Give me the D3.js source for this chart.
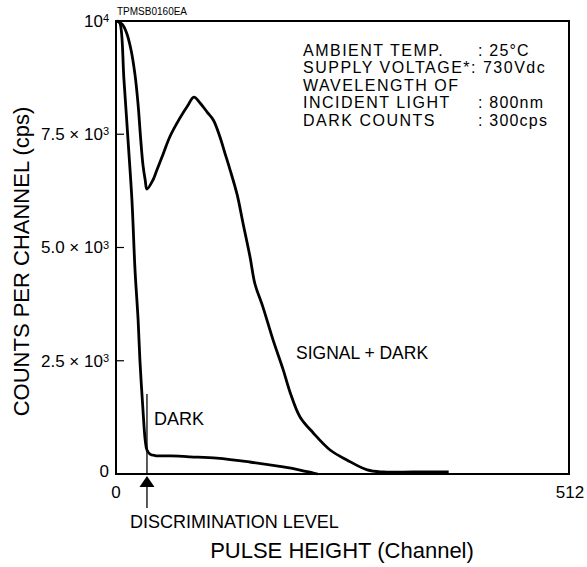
<!DOCTYPE html>
<html>
<head>
<meta charset="utf-8">
<script src="https://cdn.jsdelivr.net/npm/d3@7"></script>
<style>
  body { margin: 0; background: #fff; }
  text { font-family: "Liberation Sans", Arial, sans-serif; fill: #000; }
</style>
</head>
<body>
<div id="chart"></div>
<script>
// pulse height distribution
const darkChannel = [2, 4.5, 9, 13.6, 18, 21.5, 25, 27, 30.5, 33, 35, 38.4, 44, 61, 76, 84, 114, 151, 189, 208, 223, 228];
const darkCounts  = [10000, 9950, 8700, 7370, 6050, 4500, 3400, 2520, 1410, 750, 530, 440, 408, 400, 390, 380, 350, 265, 155, 88, 22, 0];

const signalChannel = [1, 7, 12, 17, 21.5, 25, 28, 30.5, 33, 35, 41.8, 46, 53, 61, 72, 81, 88, 95, 103, 110, 117.5, 123, 129, 137, 143.5, 151.5, 157, 166, 177.5, 189, 197, 208, 223, 242, 261, 284, 302, 336, 376];
const signalCounts  = [10000, 9930, 9735, 9360, 8810, 8150, 7370, 6820, 6490, 6290, 6490, 6700, 7050, 7450, 7850, 8130, 8320, 8190, 7990, 7815, 7440, 7090, 6710, 6160, 5540, 4790, 4200, 3690, 2960, 2300, 1790, 1260, 905, 530, 310, 90, 45, 45, 45];

const yTicks = [0, 2500, 5000, 7500, 10000];
const yMantissa = ["0", "2.5", "5.0", "7.5", "10"];   // "10" gets exponent 4
const xTicks = [0, 512];

const discrimChannel = 35;
const discrimTop = 1766;

const conditions = [
  ["AMBIENT TEMP.", ": 25°C"],
  ["SUPPLY VOLTAGE*: 730Vdc", ""],
  ["WAVELENGTH OF", ""],
  ["INCIDENT LIGHT", ": 800nm"],
  ["DARK COUNTS", ": 300cps"]
];

const W = 587, H = 567;
const margin = { top: 21, right: 18, bottom: 93, left: 116 };

const svg = d3.select("#chart").append("svg")
  .attr("width", W).attr("height", H);

const x = d3.scaleLinear().domain([0, 512]).range([margin.left, W - margin.right]);
const y = d3.scaleLinear().domain([0, 10000]).range([H - margin.bottom, margin.top]);

// frame
svg.append("rect")
  .attr("x", x(0)).attr("y", y(10000))
  .attr("width", x(512) - x(0)).attr("height", y(0) - y(10000))
  .attr("fill", "none").attr("stroke", "#000").attr("stroke-width", 2);

// inward y ticks
svg.append("g").selectAll("line")
  .data(yTicks.filter(d => d > 0 && d < 10000))
  .join("line")
  .attr("x1", x(0)).attr("x2", x(0) + 8)
  .attr("y1", d => y(d)).attr("y2", d => y(d))
  .attr("stroke", "#000").attr("stroke-width", 1.2);

// y tick labels
const yl = svg.append("g").selectAll("text")
  .data(yTicks)
  .join("text")
  .attr("x", x(0) - 7)
  .attr("y", d => y(d))
  .attr("dy", "0.35em")
  .attr("text-anchor", "end")
  .style("font-size", "17px");

yl.each(function (d, i) {
  const t = d3.select(this);
  if (d === 0) { t.attr("dy", "0.2em").text("0"); return; }
  if (d === 10000) {
    t.append("tspan").text("10");
    t.append("tspan").attr("dy", "-0.45em").style("font-size", "11px").text("4");
    return;
  }
  t.append("tspan").text(yMantissa[i] + " \u00d7 10");
  t.append("tspan").attr("dy", "-0.45em").style("font-size", "11px").text("3");
});

// x tick labels
svg.append("g").selectAll("text")
  .data(xTicks)
  .join("text")
  .attr("x", d => x(d) + (d === 512 ? 1 : 0))
  .attr("y", y(0) + 24)
  .attr("text-anchor", "middle")
  .style("font-size", "17px")
  .text(d => d);

// axis titles
svg.append("text")
  .attr("transform", `translate(29, ${(y(0) + y(10000)) / 2 + 14}) rotate(-90)`)
  .attr("text-anchor", "middle")
  .style("font-size", "22px")
  .text("COUNTS PER CHANNEL (cps)");

svg.append("text")
  .attr("x", 342).attr("y", 558)
  .attr("text-anchor", "middle")
  .style("font-size", "22px")
  .text("PULSE HEIGHT (Channel)");

svg.append("text")
  .attr("x", x(0) + 1).attr("y", 15)
  .style("font-size", "10px")
  .text("TPMSB0160EA");

// curves
const line = d3.line()
  .x(d => x(d[0]))
  .y(d => y(d[1]))
  .curve(d3.curveCatmullRom.alpha(0.5));

svg.append("path")
  .datum(d3.zip(darkChannel, darkCounts))
  .attr("d", line)
  .attr("fill", "none").attr("stroke", "#000").attr("stroke-width", 2.8)
  .attr("stroke-linejoin", "round");

svg.append("path")
  .datum(d3.zip(signalChannel, signalCounts))
  .attr("d", line)
  .attr("fill", "none").attr("stroke", "#000").attr("stroke-width", 2.8)
  .attr("stroke-linejoin", "round");

// discrimination level marker
svg.append("line")
  .attr("x1", x(discrimChannel)).attr("x2", x(discrimChannel))
  .attr("y1", y(discrimTop)).attr("y2", y(0))
  .attr("stroke", "#000").attr("stroke-width", 1.3);

svg.append("path")
  .attr("d", `M${x(discrimChannel)},${y(0) + 2} l7.5,11 l-15,0 Z`)
  .attr("fill", "#000");

svg.append("line")
  .attr("x1", x(discrimChannel)).attr("x2", x(discrimChannel))
  .attr("y1", y(0) + 12).attr("y2", y(0) + 34)
  .attr("stroke", "#000").attr("stroke-width", 1.3);

svg.append("text")
  .attr("x", 130).attr("y", 528)
  .style("font-size", "18px")
  .text("DISCRIMINATION LEVEL");

// curve labels
svg.append("text")
  .attr("x", 154).attr("y", 425)
  .style("font-size", "18px")
  .text("DARK");

svg.append("text")
  .attr("x", 296).attr("y", 359)
  .style("font-size", "17.5px")
  .text("SIGNAL + DARK");

// measurement conditions
const cond = svg.append("g").selectAll("g")
  .data(conditions)
  .join("g")
  .attr("transform", (d, i) => `translate(0, ${56 + i * 17.4})`);

cond.append("text")
  .attr("x", 303)
  .style("font-size", "16px")
  .style("letter-spacing", "1.5px")
  .text(d => d[0]);

cond.append("text")
  .attr("x", 478)
  .style("font-size", "16px")
  .style("letter-spacing", "1.2px")
  .text(d => d[1]);
</script>
</body>
</html>
